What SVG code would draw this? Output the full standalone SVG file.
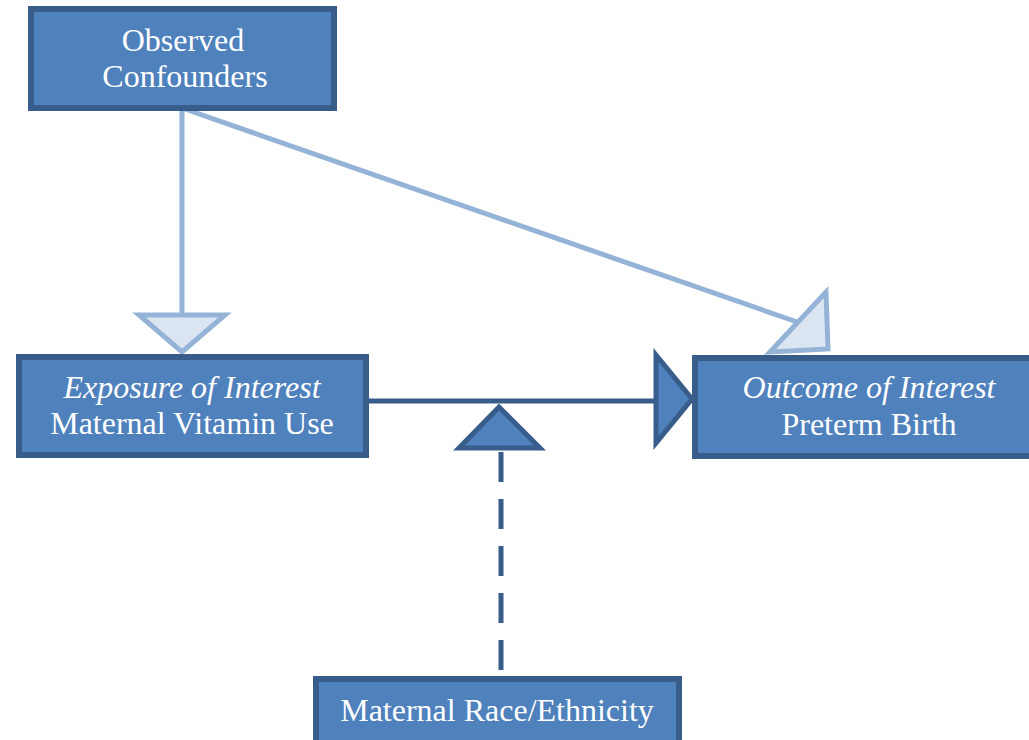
<svg xmlns="http://www.w3.org/2000/svg" width="1029" height="740" viewBox="0 0 1029 740">
<style>
.box{fill:#4F81BD;stroke:#385D8A;stroke-width:6}
.t{font-family:"Liberation Serif","Times New Roman",serif;font-size:32px;fill:#FFFFFF;text-anchor:middle}
.i{font-style:italic}
.light{stroke:#95B3D7;stroke-width:5;fill:none}
.lighthead{fill:#DBE5F1;stroke:#95B3D7;stroke-width:5;stroke-linejoin:miter}
.dark{stroke:#385D8A;stroke-width:5;fill:none}
.darkhead{fill:#4F81BD;stroke:#385D8A;stroke-width:5;stroke-linejoin:miter}
</style>
<rect width="1029" height="740" fill="#FFFFFF"/>
<g id="connectors">
  <line class="light" x1="182" y1="108" x2="182" y2="315"/>
  <polygon class="lighthead" points="139,315 225,315 182,352"/>
  <line class="light" x1="182" y1="108" x2="800" y2="323"/>
  <polygon class="lighthead" points="826,292 828,349 770,352"/>
  <line class="dark" x1="369" y1="401" x2="656" y2="401"/>
  <polygon class="darkhead" points="656,355 656,443 692,399"/>
  <line class="dark" x1="501" y1="452" x2="501" y2="674" stroke-width="6" stroke-dasharray="30 17"/>
  <polygon class="darkhead" points="459,448 540,448 499,407"/>
</g>
<g id="node-confounders">
  <rect class="box" x="31" y="9" width="303" height="99"/>
  <text class="t" x="183" y="51">Observed</text>
  <text class="t" x="185" y="87">Confounders</text>
</g>
<g id="node-exposure">
  <rect class="box" x="19" y="357" width="347" height="98"/>
  <text class="t i" x="192" y="398">Exposure of Interest</text>
  <text class="t" x="192" y="434">Maternal Vitamin Use</text>
</g>
<g id="node-outcome">
  <rect class="box" x="695" y="358" width="340" height="98"/>
  <text class="t i" x="869" y="398">Outcome of Interest</text>
  <text class="t" x="869" y="435">Preterm Birth</text>
</g>
<g id="node-race">
  <rect class="box" x="316" y="679" width="363" height="70"/>
  <text class="t" x="497" y="721">Maternal Race/Ethnicity</text>
</g>
</svg>
